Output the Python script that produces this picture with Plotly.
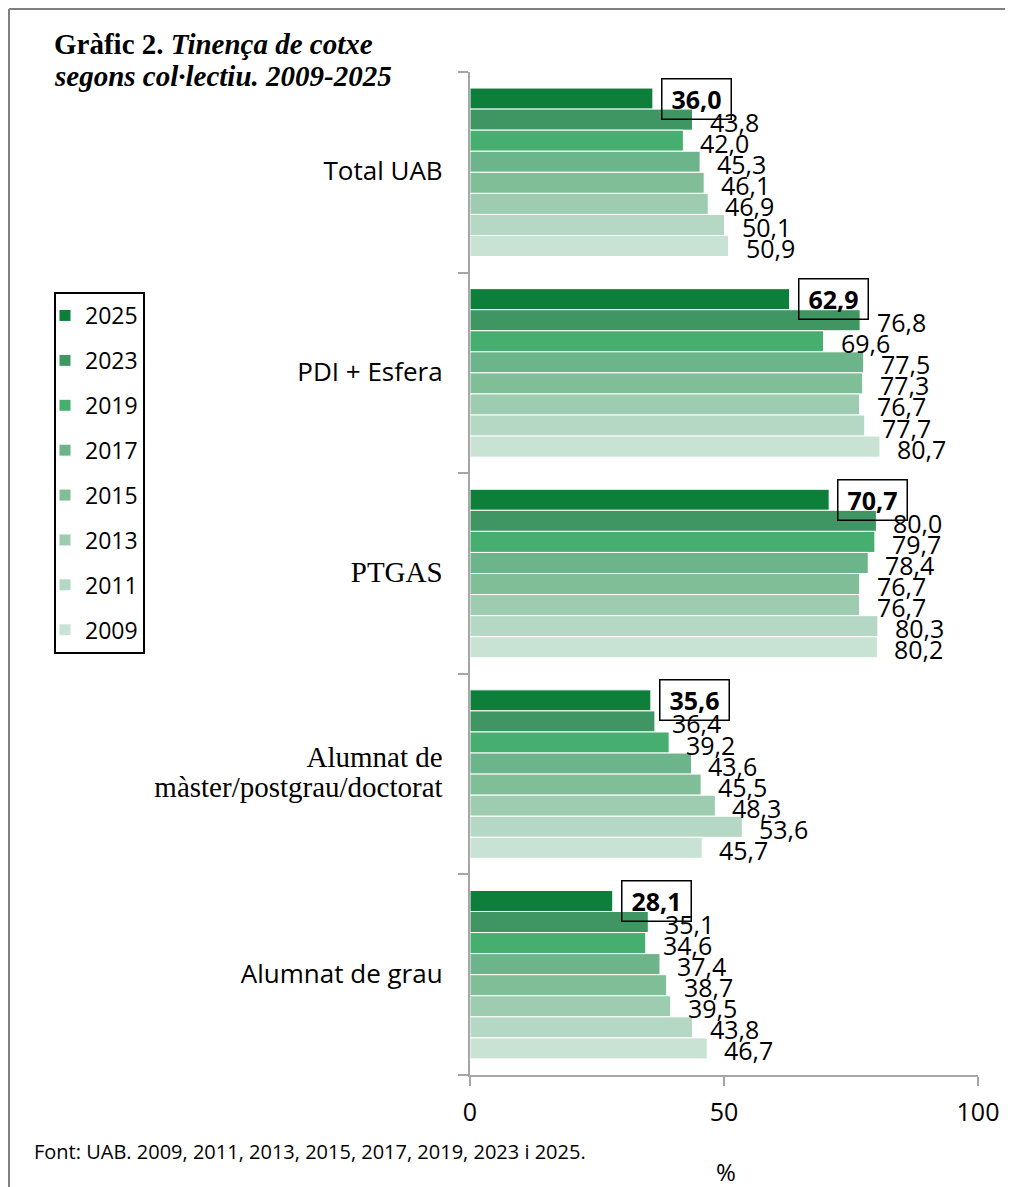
import plotly.graph_objects as go

categories = ["Total UAB", "PDI + Esfera", "PTGAS",
              "Alumnat de màster/postgrau/doctorat", "Alumnat de grau"]
tick_labels = [
    '<span style="font-family:Open Sans;font-size:26px">Total UAB</span>',
    '<span style="font-family:Open Sans;font-size:26px">PDI + Esfera</span>',
    '<span style="font-family:Liberation Serif;font-size:29px">PTGAS</span>',
    '<span style="font-family:Liberation Serif;font-size:29px">Alumnat de<br>màster/postgrau/doctorat</span>',
    '<span style="font-family:Open Sans;font-size:26px">Alumnat de grau</span>',
]
years = ["2025", "2023", "2019", "2017", "2015", "2013", "2011", "2009"]
v2025 = [36.0, 62.9, 70.7, 35.6, 28.1]
v2023 = [43.8, 76.8, 80.0, 36.4, 35.1]
v2019 = [42.0, 69.6, 79.7, 39.2, 34.6]
v2017 = [45.3, 77.5, 78.4, 43.6, 37.4]
v2015 = [46.1, 77.3, 76.7, 45.5, 38.7]
v2013 = [46.9, 76.7, 76.7, 48.3, 39.5]
v2011 = [50.1, 77.7, 80.3, 53.6, 43.8]
v2009 = [50.9, 80.7, 80.2, 45.7, 46.7]
series = [v2025, v2023, v2019, v2017, v2015, v2013, v2011, v2009]
colors = ["#0E7F3A", "#3F9663", "#46AE6F", "#6CB48A",
          "#80BE97", "#9ECCB1", "#B4D8C3", "#C8E3D3"]

OFF = 8  # page body margin
W, H = 1005, 1179
L, R, T, B = 462, 35, 64, 112
pw, ph = W - L - R, H - T - B
def px(x): return (x - OFF - L) / pw
def py(y): return (H - B - (y - OFF)) / ph

bargap = 0.16
fig = go.Figure()
for yr, vals, c in zip(years, series, colors):
    fig.add_trace(go.Bar(
        y=categories, x=vals, orientation="h", name=yr,
        marker=dict(color=c, line=dict(color="white", width=1)),
        legendgroup=yr, hoverinfo="x+name",
    ))

n = len(years)
bw = (1 - bargap) / n
annotations = []
for k, vals in enumerate(series):
    for g, v in enumerate(vals):
        ypos = g - (1 - bargap) / 2 + (k + 0.5) * bw
        label = f"{v:.1f}".replace(".", ",")
        if k == 0:
            annotations.append(dict(
                x=v, y=ypos, xref="x", yref="y", text=f"<b>{label}</b>",
                showarrow=False, xanchor="left", yanchor="middle",
                xshift=8, yshift=0, bordercolor="black", borderwidth=1.5,
                width=64, height=35, borderpad=2,
                font=dict(family="Open Sans", size=25, color="black")))
        else:
            annotations.append(dict(
                x=v, y=ypos, xref="x", yref="y", text=label,
                showarrow=False, xanchor="left", yanchor="middle",
                xshift=15, yshift=-2,
                font=dict(family="Open Sans", size=25, color="black")))

annotations.append(dict(
    x=px(52), y=py(44), xref="paper", yref="paper", xanchor="left", yanchor="middle",
    align="left", showarrow=False,
    text="<b>Gràfic 2. <i>Tinença de cotxe</i></b>",
    font=dict(family="Liberation Serif", size=29, color="black")))
annotations.append(dict(
    x=px(52), y=py(76), xref="paper", yref="paper", xanchor="left", yanchor="middle",
    align="left", showarrow=False,
    text="<b><i>segons col·lectiu. 2009-2025</i></b>",
    font=dict(family="Liberation Serif", size=29, color="black")))
annotations.append(dict(
    x=px(32), y=py(1151), xref="paper", yref="paper", xanchor="left", yanchor="middle",
    showarrow=False, text="Font: UAB. 2009, 2011, 2013, 2015, 2017, 2019, 2023 i 2025.",
    font=dict(family="Open Sans", size=20, color="black")))
annotations.append(dict(
    x=px(726), y=py(1171), xref="paper", yref="paper", xanchor="center", yanchor="middle",
    showarrow=False, text="%",
    font=dict(family="Open Sans", size=24, color="black")))

shapes = [
    dict(type="line", xref="paper", yref="paper", x0=px(9), x1=px(1030),
         y0=py(9), y1=py(9), line=dict(color="#808080", width=2)),
    dict(type="line", xref="paper", yref="paper", x0=px(9), x1=px(9),
         y0=py(9), y1=py(1200), line=dict(color="#808080", width=2)),
]

fig.update_layout(
    width=W, height=H, margin=dict(l=L, r=R, t=T, b=B),
    paper_bgcolor="white", plot_bgcolor="white",
    barmode="group", bargap=bargap, bargroupgap=0,
    font=dict(family="Open Sans", size=24, color="black"),
    annotations=annotations, shapes=shapes,
    legend=dict(x=px(54), y=py(292), xanchor="left", yanchor="top",
                bordercolor="black", borderwidth=2, bgcolor="white",
                font=dict(family="Open Sans", size=23, color="black"),
                tracegroupgap=12, itemwidth=30, indentation=-11),
    showlegend=True,
)
fig.update_xaxes(range=[0, 100], tickvals=[0, 50, 100], showgrid=False, zeroline=False,
                 showline=True, linecolor="#A6A6A6", linewidth=1.5,
                 ticks="outside", ticklen=9, tickcolor="#A6A6A6", tickwidth=1.5,
                 ticklabelstandoff=5, tickfont=dict(size=25))
fig.update_yaxes(categoryorder="array", categoryarray=categories, autorange="reversed",
                 tickvals=categories, ticktext=tick_labels, tickson="boundaries",
                 showgrid=False, zeroline=False, showline=True, linecolor="#A6A6A6",
                 linewidth=1.5, ticks="outside", ticklen=10, tickcolor="#A6A6A6",
                 tickwidth=1.5, ticklabelstandoff=21, tickfont=dict(size=23))

fig.write_html("out.html")
